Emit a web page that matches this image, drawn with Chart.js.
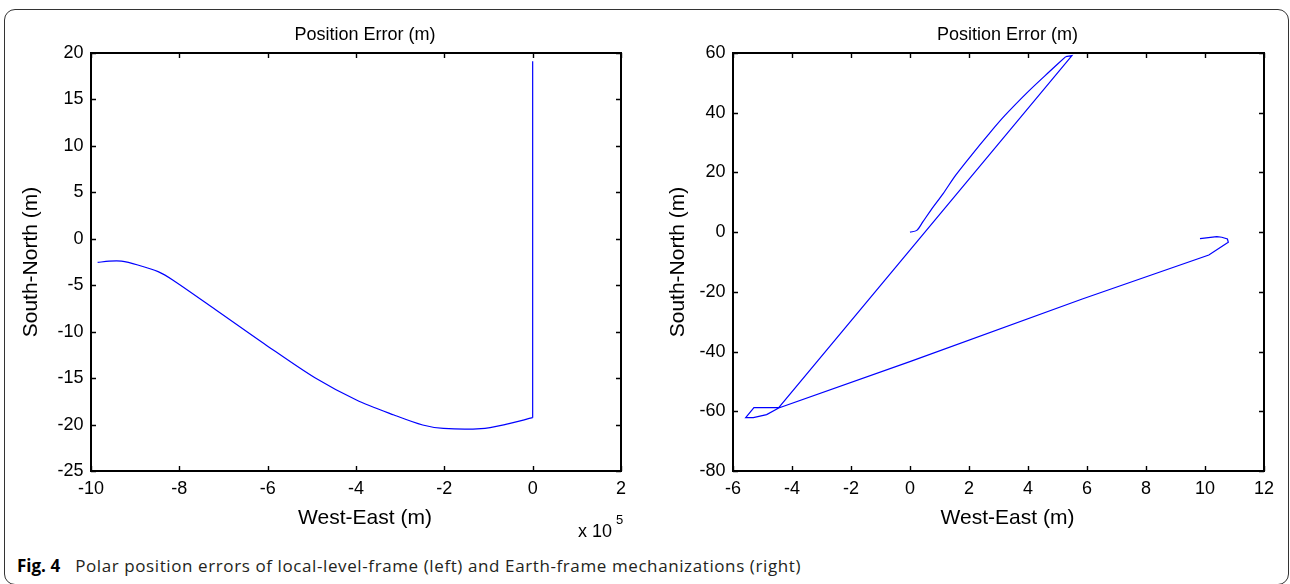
<!DOCTYPE html>
<html><head><meta charset="utf-8">
<script src="https://cdn.jsdelivr.net/npm/chart.js@4.4.0/dist/chart.umd.min.js"></script>
<style>
html,body{margin:0;padding:0;background:#fff;width:1290px;height:584px;overflow:hidden;position:relative;}
#frame{position:absolute;left:4px;top:9px;width:1285px;height:576px;box-sizing:border-box;border:1.2px solid #333;border-radius:11px;}
#c1{position:absolute;left:0;top:0;}
#c2{position:absolute;left:645px;top:0;}
#caption{position:absolute;left:17px;top:558px;font-family:"Open Sans";font-size:17px;line-height:16px;letter-spacing:0.6px;color:#231f20;white-space:nowrap;}
#caption b{color:#000;letter-spacing:0;margin-right:10px;}
</style></head>
<body>
<div id="frame"></div>
<canvas id="c1" width="645" height="545"></canvas>
<canvas id="c2" width="645" height="545"></canvas>
<div id="caption"><b>Fig. 4</b> Polar position errors of local-level-frame (left) and Earth-frame mechanizations (right)</div>
<script>
// ---- Data (left: West-East in units of 1e5 m, South-North in m) ----
const leftVertX = [0.0, 0.0];
const leftVertY = [19.1, -19.26];
const leftCurveX = [0.0, -0.61, -1.17, -2.02, -2.49, -3.14, -3.99, -4.92, -6.04, -7.17, -8.15, -8.48, -8.94, -9.31, -9.59, -9.85];
const leftCurveY = [-19.26, -19.98, -20.44, -20.42, -20.05, -18.97, -17.36, -15.0, -11.43, -7.67, -4.44, -3.54, -2.82, -2.41, -2.41, -2.55];
const leftXTicks = [-10, -8, -6, -4, -2, 0, 2];
const leftYTicks = [-25, -20, -15, -10, -5, 0, 5, 10, 15, 20];

// ---- Data (right: metres) ----
const rightUpperX = [0, 0.23, 0.44, 0.71, 1.13, 1.55, 2.10, 2.65, 3.21, 4.04, 4.73, 5.28];
const rightUpperY = [0, 0.6, 3.5, 7.4, 13.0, 19.1, 26.0, 32.6, 39.0, 47.4, 53.8, 58.8];
const rightLoopX = [5.28, 5.49, -4.45, -5.29, -5.57, -5.31, -4.86, -4.45, 0.02, 5.84, 10.13,
  10.62, 10.79, 10.76, 10.57, 10.40, 9.83];
const rightLoopY = [58.8, 59.1, -58.75, -58.75, -62.1, -62.1, -61.1, -58.9, -43.3, -22.4, -7.65,
  -4.5, -3.4, -2.3, -1.7, -1.5, -2.2];
const rightXTicks = [-6, -4, -2, 0, 2, 4, 6, 8, 10, 12];
const rightYTicks = [-80, -60, -40, -20, 0, 20, 40, 60];

const titleText = 'Position Error (m)';
const xTitleText = 'West-East (m)';
const yTitleText = 'South-North (m)';

const FONT = '"Liberation Sans", Arial, Helvetica, sans-serif';
const pts = (xs, ys) => xs.map((v, i) => ({x: v, y: ys[i]}));

const framePlugin = {
  id: 'frameTicks',
  afterDraw(chart, args, o) {
    const {ctx, chartArea: a, scales: {x, y}} = chart;
    ctx.save();
    ctx.strokeStyle = '#000';
    ctx.lineWidth = 1.4;
    ctx.beginPath();
    x.ticks.forEach(t => {
      const px = Math.round(x.getPixelForValue(t.value)) + 0.5;
      ctx.moveTo(px, a.bottom); ctx.lineTo(px, a.bottom - 5);
      ctx.moveTo(px, a.top); ctx.lineTo(px, a.top + 5);
    });
    y.ticks.forEach(t => {
      const py = Math.round(y.getPixelForValue(t.value)) + 0.5;
      ctx.moveTo(a.left, py); ctx.lineTo(a.left + 5, py);
      ctx.moveTo(a.right, py); ctx.lineTo(a.right - 5, py);
    });
    ctx.stroke();
    ctx.lineWidth = 2;
    ctx.strokeRect(a.left, a.top, a.right - a.left, a.bottom - a.top);
    ctx.fillStyle = '#000';
    ctx.textAlign = 'center';
    ctx.textBaseline = 'middle';
    const cx = (a.left + a.right) / 2 + o.dx;
    ctx.font = '18px ' + FONT;
    ctx.fillText(titleText, cx, 35);
    ctx.font = '21px ' + FONT;
    ctx.fillText(xTitleText, cx, 518);
    ctx.save();
    ctx.translate(o.yTitleX, (a.top + a.bottom) / 2);
    ctx.rotate(-Math.PI / 2);
    ctx.fillText(yTitleText, 0, 0);
    ctx.restore();
    if (o.exp) {
      ctx.textAlign = 'left';
      ctx.textBaseline = 'alphabetic';
      ctx.font = '18px ' + FONT;
      ctx.fillText('x 10', 578, 537);
      ctx.font = '13px ' + FONT;
      ctx.fillText('5', 616, 524);
    }
    ctx.restore();
  }
};

function makeChart(id, datasets, xr, yr, xt, yt, yw, padR, o) {
  return new Chart(document.getElementById(id), {
    type: 'scatter',
    data: {datasets},
    options: {
      responsive: false, animation: false,
      layout: {padding: {left: 0, top: 53, right: padR, bottom: 0}},
      plugins: {legend: {display: false}, tooltip: {enabled: false}, title: {display: false}, frameTicks: o},
      scales: {
        x: {
          type: 'linear', min: xr[0], max: xr[1],
          afterBuildTicks: s => { s.ticks = xt.map(v => ({value: v})); },
          afterFit: s => { s.height = 74; },
          grid: {display: false, drawTicks: false}, border: {display: false},
          ticks: {padding: 7, color: '#000', font: {family: FONT, size: 18}, maxRotation: 0, autoSkip: false, callback: v => String(v)}
        },
        y: {
          type: 'linear', min: yr[0], max: yr[1],
          afterBuildTicks: s => { s.ticks = yt.map(v => ({value: v})); },
          afterFit: s => { s.width = yw; },
          grid: {display: false, drawTicks: false}, border: {display: false},
          ticks: {padding: 7.5, color: '#000', font: {family: FONT, size: 18}, autoSkip: false, callback: v => String(v)}
        }
      }
    },
    plugins: [framePlugin]
  });
}

const lineStyle = {borderColor: '#0000ff', backgroundColor: '#0000ff', borderWidth: 1.2, pointRadius: 0, showLine: true, fill: false};

makeChart('c1', [
  Object.assign({data: pts(leftVertX, leftVertY), tension: 0}, lineStyle),
  Object.assign({data: pts(leftCurveX, leftCurveY), tension: 0.3}, lineStyle)
], [-10, 2], [-25, 20], leftXTicks, leftYTicks, 91, 24, {dx: 9, yTitleX: 31, exp: true});

makeChart('c2', [
  Object.assign({data: pts(rightUpperX, rightUpperY), tension: 0.3}, lineStyle),
  Object.assign({data: pts(rightLoopX, rightLoopY), tension: 0}, lineStyle)
], [-6, 12], [-80, 60], rightXTicks, rightYTicks, 88, 26, {dx: 9, yTitleX: 33, exp: false});
</script>
</body></html>
